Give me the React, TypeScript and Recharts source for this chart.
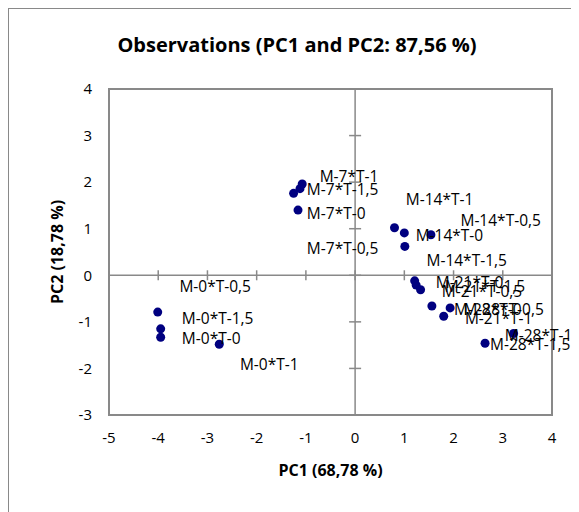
import { ScatterChart, Scatter, XAxis, YAxis, ReferenceLine, ReferenceArea, ReferenceDot } from "recharts";

// PCA scores (PC1, PC2)
const names = [
  "M-0*T-0", "M-0*T-0,5", "M-0*T-1", "M-0*T-1,5",
  "M-7*T-0", "M-7*T-0,5", "M-7*T-1", "M-7*T-1,5",
  "M-14*T-0", "M-14*T-0,5", "M-14*T-1", "M-14*T-1,5",
  "M-21*T-0", "M-21*T-0,5", "M-21*T-1", "M-21*T-1,5",
  "M-28*T-0", "M-28*T-0,5", "M-28*T-1", "M-28*T-1,5",
];
const pc1 = [
  -3.95, -4.01, -2.76, -3.95,
  -1.16, -1.25, -1.075, -1.12,
  1.0, 0.8, 1.54, 1.01,
  1.21, 1.33, 1.8, 1.24,
  1.56, 1.93, 3.22, 2.64,
];
const pc2 = [
  -1.33, -0.79, -1.48, -1.15,
  1.4, 1.76, 1.96, 1.86,
  0.91, 1.02, 0.87, 0.62,
  -0.12, -0.31, -0.88, -0.21,
  -0.66, -0.7, -1.25, -1.46,
];
// where each point's label sits (data units, left edge / middle)
const labelPc1 = [
  -3.52, -3.57, -2.34, -3.52,
  -0.98, -0.98, -0.72, -0.98,
  1.23, 2.14, 1.03, 1.45,
  1.64, 1.76, 2.23, 1.82,
  2.01, 2.2, 3.04, 2.74,
];
const labelPc2 = [
  -1.35, -0.23, -1.9, -0.92,
  1.33, 0.58, 2.14, 1.86,
  0.87, 1.18, 1.63, 0.33,
  -0.15, -0.33, -0.92, -0.24,
  -0.72, -0.72, -1.29, -1.48,
];
const xTicks = [-5, -4, -3, -2, -1, 0, 1, 2, 3, 4];
const yTicks = [-3, -2, -1, 0, 1, 2, 3, 4];

const points = names.map((n, i) => ({ name: n, x: pc1[i], y: pc2[i] }));
const labels = names.map((n, i) => ({ name: n, x: labelPc1[i], y: labelPc2[i] }));

const FONT = "'Open Sans', sans-serif";
const GRAY = "#898989";

const LabelText = (props: any) => (
  <text x={props.cx} y={props.cy} dominantBaseline="central" fontSize={15.5} fontFamily={FONT} fill="#000">
    {props.payload.name}
  </text>
);

const VTick = (props: any) => (
  <line x1={props.cx} x2={props.cx} y1={props.cy - 5} y2={props.cy + 5} stroke={GRAY} strokeWidth={1.5} />
);
const HTick = (props: any) => (
  <line x1={props.cx - 6} x2={props.cx + 6} y1={props.cy} y2={props.cy} stroke={GRAY} strokeWidth={1.5} />
);

export default function App() {
  return (
    <div
      style={{
        position: "relative",
        width: 571,
        height: 504,
        borderLeft: `1.5px solid ${GRAY}`,
        borderTop: `1.5px solid ${GRAY}`,
        boxSizing: "border-box",
        fontFamily: FONT,
      }}
    >
      <style>{`svg { overflow: visible; }`}</style>
      <div
        style={{
          position: "absolute",
          left: 0,
          width: 576,
          top: 22,
          textAlign: "center",
          fontWeight: "bold",
          fontSize: 20,
          color: "#000",
        }}
      >
        Observations (PC1 and PC2: 87,56 %)
      </div>
      <ScatterChart width={569} height={502} margin={{ top: 80, right: 26, left: 40, bottom: 0 }}>
        <XAxis
          type="number"
          dataKey="x"
          domain={[-5, 4]}
          ticks={xTicks}
          axisLine={false}
          tickLine={false}
          tickSize={0}
          tickMargin={17}
          height={96}
          tick={{ fontSize: 15, fill: "#000", fontFamily: FONT }}
          label={{
            content: ({ viewBox }: any) => (
              <text
                x={viewBox.x + viewBox.width / 2}
                y={viewBox.y + 55}
                textAnchor="middle"
                dominantBaseline="central"
                fontWeight="bold"
                fontSize={16}
                fontFamily={FONT}
              >
                PC1 (68,78 %)
              </text>
            ),
          }}
        />
        <YAxis
          type="number"
          dataKey="y"
          domain={[-3, 4]}
          ticks={yTicks}
          axisLine={false}
          tickLine={false}
          tickSize={0}
          tickMargin={17}
          width={60}
          tick={{ fontSize: 15, fill: "#000", fontFamily: FONT }}
          label={{
            content: ({ viewBox }: any) => (
              <text
                x={viewBox.x + 8}
                y={viewBox.y + viewBox.height / 2}
                transform={`rotate(-90 ${viewBox.x + 8} ${viewBox.y + viewBox.height / 2})`}
                textAnchor="middle"
                dominantBaseline="central"
                fontWeight="bold"
                fontSize={16}
                fontFamily={FONT}
              >
                PC2 (18,78 %)
              </text>
            ),
          }}
        />
        <ReferenceArea x1={-5} x2={4} y1={-3} y2={4} fill="none" stroke={GRAY} strokeWidth={2} />
        <ReferenceLine x={0} stroke={GRAY} strokeWidth={1.5} />
        <ReferenceLine y={0} stroke={GRAY} strokeWidth={1.5} />
        {xTicks.map((t) => (
          <ReferenceDot key={`xt${t}`} x={t} y={0} shape={VTick} />
        ))}
        {yTicks.map((t) => (
          <ReferenceDot key={`yt${t}`} x={0} y={t} shape={HTick} />
        ))}
        <Scatter data={points} fill="#000080" isAnimationActive={false} shape={(p: any) => <circle cx={p.cx} cy={p.cy} r={4.5} fill="#000080" />} />
        <Scatter data={labels} isAnimationActive={false} shape={LabelText} />
      </ScatterChart>
    </div>
  );
}
